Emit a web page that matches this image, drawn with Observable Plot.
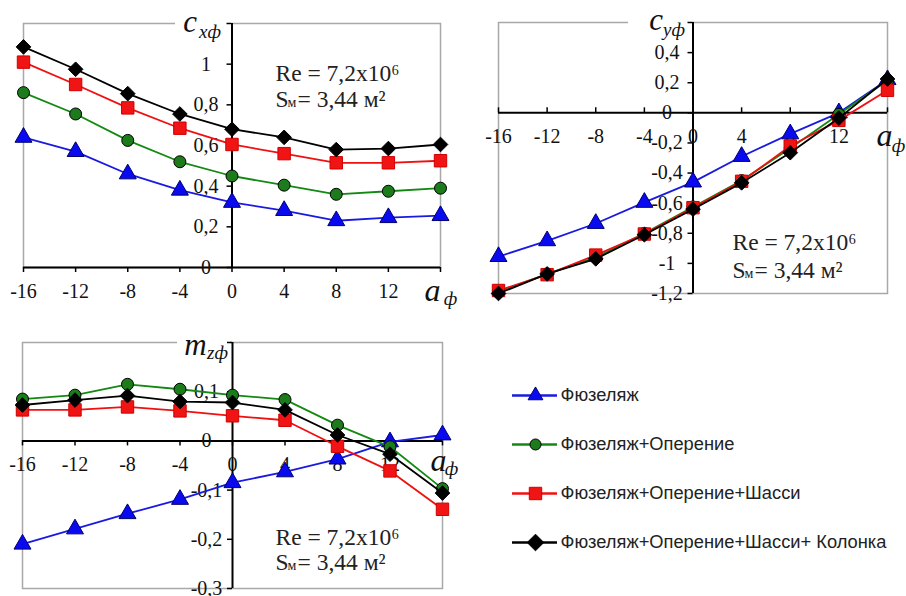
<!DOCTYPE html>
<html><head><meta charset="utf-8">
<script src="https://cdn.jsdelivr.net/npm/d3@7"></script>
<script src="https://cdn.jsdelivr.net/npm/@observablehq/plot@0.6"></script>
<style>
body{margin:0;background:#fff;}
#root{position:relative;width:906px;height:596px;overflow:hidden;background:#fff;}
#root svg{position:absolute;overflow:visible;background:transparent;}
</style></head><body><div id="root"></div>
<script>
// ---------- data ----------
const alpha = [-16, -12, -8, -4, 0, 4, 8, 12, 16];
const seriesNames = ["Фюзеляж", "Фюзеляж+Оперение", "Фюзеляж+Оперение+Шасси", "Фюзеляж+Оперение+Шасси+ Колонка"];

const cxFuselage      = [0.64, 0.57, 0.46, 0.38, 0.32, 0.28, 0.23, 0.245, 0.255];
const cxTail          = [0.86, 0.755, 0.625, 0.52, 0.45, 0.405, 0.36, 0.375, 0.39];
const cxGear          = [1.01, 0.90, 0.785, 0.685, 0.605, 0.56, 0.515, 0.515, 0.525];
const cxColumn        = [1.085, 0.975, 0.855, 0.755, 0.68, 0.64, 0.58, 0.585, 0.605];

const cyFuselage      = [-0.955, -0.85, -0.735, -0.595, -0.46, -0.29, -0.14, 0.0, 0.22];
const cyTail          = [-1.19, -1.07, -0.96, -0.80, -0.625, -0.45, -0.235, -0.01, 0.215];
const cyGear          = [-1.18, -1.075, -0.945, -0.805, -0.63, -0.455, -0.22, -0.05, 0.15];
const cyColumn        = [-1.2, -1.07, -0.97, -0.81, -0.64, -0.465, -0.265, -0.035, 0.225];

const mzFuselage      = [-0.21, -0.179, -0.148, -0.119, -0.085, -0.063, -0.037, -0.002, 0.012];
const mzTail          = [0.085, 0.093, 0.115, 0.105, 0.093, 0.084, 0.032, -0.012, -0.097];
const mzGear          = [0.063, 0.063, 0.069, 0.061, 0.051, 0.042, -0.011, -0.061, -0.139];
const mzColumn        = [0.073, 0.083, 0.092, 0.08, 0.078, 0.063, 0.012, -0.027, -0.106];

const xTickValues  = [-16, -12, -8, -4, 0, 4, 8, 12, 16];
const xTickLabels  = [-16, -12, -8, -4, 0, 4, 8, 12];
const cxTickValues = [0, 0.2, 0.4, 0.6, 0.8, 1, 1.2];
const cxTickLabels = [0, 0.2, 0.4, 0.6, 0.8, 1];
const cyTickValues = [-1.2, -1, -0.8, -0.6, -0.4, -0.2, 0, 0.2, 0.4, 0.6];
const cyTickLabels = [-1.2, -1, -0.8, -0.6, -0.4, -0.2, 0, 0.2, 0.4];
const mzTickValues = [-0.3, -0.2, -0.1, 0, 0.1, 0.2];
const mzTickLabels = [-0.3, -0.2, -0.1, 0, 0.1];

const reText = "Re = 7,2x10⁶";
const sText = ["S", "м", "= 3,44 м²"];

// ---------- styles ----------
const SERIF = "'Liberation Serif', 'Times New Roman', serif";
const SANS = "'Liberation Sans', Arial, sans-serif";
const styles = [
  {line: "#1a1ae0", fill: "#0a0af0", stroke: "#000070", symbol: "triangle", r: 6.3},
  {line: "#128a12", fill: "#1c7c1c", stroke: "#000000", symbol: "circle", r: 6},
  {line: "#f01010", fill: "#f01414", stroke: "#d00000", symbol: "square", r: 7},
  {line: "#000000", fill: "#000000", stroke: "#000000", symbol: "diamond2", r: 6.6}
];
const fmt = v => String(Math.round(v * 10) / 10).replace(".", ",");
const TICK_FS = 20;
const RE_FS = 23.5;

function tableOf(series) {
  return series.flatMap((vals, s) => alpha.map((a, i) => ({s, a, v: vals[i]})));
}

function panel(cfg) {
  const rows = tableOf(cfg.series);
  const ymax = cfg.yDomain[1];
  const marks = [
    Plot.frame({stroke: "#a8a8a8", strokeWidth: 1.5}),
    Plot.ruleY([ymax], {stroke: "white", strokeWidth: 4, insetLeft: cfg.gap[0], insetRight: cfg.gap[1]}),
    Plot.ruleX([0], {stroke: "black", strokeWidth: 2}),
    Plot.ruleY([0], {stroke: "black", strokeWidth: 2}),
    Plot.ruleY(cfg.yTicks, {y: d => d, x1: 0, x2: 0, insetLeft: -5, stroke: "black", strokeWidth: 1.5}),
    Plot.ruleX(xTickValues, {x: d => d, y1: 0, y2: 0, ...(cfg.xTickUp ? {insetTop: -5} : {insetBottom: -5}), stroke: "black", strokeWidth: 1.5}),
    Plot.text(cfg.yLabels, {x: 0, y: d => d, text: fmt, dx: -26, textAnchor: "middle", fontSize: TICK_FS, fontFamily: SERIF, fill: "#111"}),
    Plot.text(xTickLabels, {x: d => d, y: 0, text: d => String(d), dy: 24, textAnchor: "middle", fontSize: TICK_FS, fontFamily: SERIF, fill: "#111"}),
    // axis titles
    Plot.text([cfg.title[0]], {x: 0, y: ymax, text: d => d, dx: cfg.tPos[0], dy: cfg.tPos[1], fontSize: 31, fontStyle: "italic", fontFamily: SERIF, fill: "#111"}),
    Plot.text([cfg.title[1]], {x: 0, y: ymax, text: d => d, dx: cfg.tPos[2], dy: cfg.tPos[3], fontSize: 19, fontStyle: "italic", fontFamily: SERIF, fill: "#111"}),
    Plot.text(["a"], {x: 16, y: 0, text: d => d, dx: cfg.aPos[0], dy: cfg.aPos[1], fontSize: 32, fontStyle: "italic", fontFamily: SERIF, fill: "#111"}),
    Plot.text(["ф"], {x: 16, y: 0, text: d => d, dx: cfg.aPos[2], dy: cfg.aPos[3], fontSize: 19, fontStyle: "italic", fontFamily: SERIF, fill: "#111"}),
    // Re annotation
    Plot.text([reText], {frameAnchor: "top-left", text: d => d, dx: cfg.re[0], dy: cfg.re[1], textAnchor: "start", fontSize: RE_FS, fontFamily: SERIF, fill: "#222"}),
    Plot.text([sText[0]], {frameAnchor: "top-left", text: d => d, dx: cfg.re[0], dy: cfg.re[2], textAnchor: "start", fontSize: RE_FS, fontFamily: SERIF, fill: "#222"}),
    Plot.text([sText[1]], {frameAnchor: "top-left", text: d => d, dx: cfg.re[0] + 12, dy: cfg.re[2] + 7, textAnchor: "start", fontSize: 14, fontFamily: SERIF, fill: "#222"}),
    Plot.text([sText[2]], {frameAnchor: "top-left", text: d => d, dx: cfg.re[0] + 22, dy: cfg.re[2], textAnchor: "start", fontSize: RE_FS, fontFamily: SERIF, fill: "#222"})
  ];
  styles.forEach((st, s) => {
    const d = rows.filter(r => r.s === s);
    marks.push(Plot.line(d, {x: "a", y: "v", stroke: st.line, strokeWidth: 1.8}));
    marks.push(Plot.dot(d, {x: "a", y: "v", symbol: st.symbol, r: st.r, fill: st.fill, stroke: st.stroke, strokeWidth: 1}));
  });
  const svg = Plot.plot({
    width: cfg.width, height: cfg.height,
    marginTop: cfg.m[0], marginRight: cfg.m[1], marginBottom: cfg.m[2], marginLeft: cfg.m[3],
    x: {domain: [-16, 16], axis: null},
    y: {domain: cfg.yDomain, axis: null},
    marks
  });
  svg.style.left = cfg.left + "px";
  svg.style.top = cfg.top + "px";
  return svg;
}

const root = document.getElementById("root");
root.append(panel({
  left: 0, top: 0, width: 460, height: 310, m: [23, 20, 43, 23],
  yDomain: [0, 1.2], yTicks: cxTickValues, yLabels: cxTickLabels,
  series: [cxFuselage, cxTail, cxGear, cxColumn],
  gap: [152, 208], title: ["c", "xф"], tPos: [-42, -1, -22, 8.5],
  aPos: [-8, 23, 10, 31], re: [252, 41, 67]
}));
root.append(panel({
  left: 460, top: 0, width: 446, height: 310, m: [22, 19, 17, 38],
  yDomain: [-1.2, 0.6], yTicks: cyTickValues, yLabels: cyTickLabels, xTickUp: true,
  series: [cyFuselage, cyTail, cyGear, cyColumn],
  gap: [130, 195], title: ["c", "yф"], tPos: [-37, -2, -19, 7],
  aPos: [-3, 23, 11, 33], re: [234, 211, 239]
}));
root.append(panel({
  left: 0, top: 310, width: 460, height: 286, m: [32, 18, 8, 22],
  yDomain: [-0.3, 0.2], yTicks: mzTickValues, yLabels: mzTickLabels,
  series: [mzFuselage, mzTail, mzGear, mzColumn],
  gap: [155, 212], title: ["m", "zф"], tPos: [-37, 3, -15, 10],
  aPos: [-4, 20, 9, 28], re: [253, 186, 211]
}));

// legend
const legendR = [5.5, 5.5, 7, 7.5];
const legend = Plot.plot({
  width: 446, height: 236, margin: 0,
  x: {domain: [0, 446], range: [0, 446], axis: null},
  y: {type: "point", domain: seriesNames, range: [35, 182], padding: 0, axis: null},
  marks: [
    ...styles.map((st, i) => Plot.ruleY([seriesNames[i]], {y: d => d, x1: 52, x2: 97, stroke: st.line, strokeWidth: 2.5})),
    ...styles.map((st, i) => Plot.dot([seriesNames[i]], {y: d => d, x: 75, symbol: st.symbol, r: legendR[i], fill: st.fill, stroke: st.stroke, strokeWidth: 1})),
    Plot.text(seriesNames, {y: d => d, x: 100, text: d => d, textAnchor: "start", fontSize: 18.3, fontFamily: SANS, fill: "#222"})
  ]
});
legend.style.left = "460px";
legend.style.top = "360px";
root.append(legend);
</script>
</body></html>
